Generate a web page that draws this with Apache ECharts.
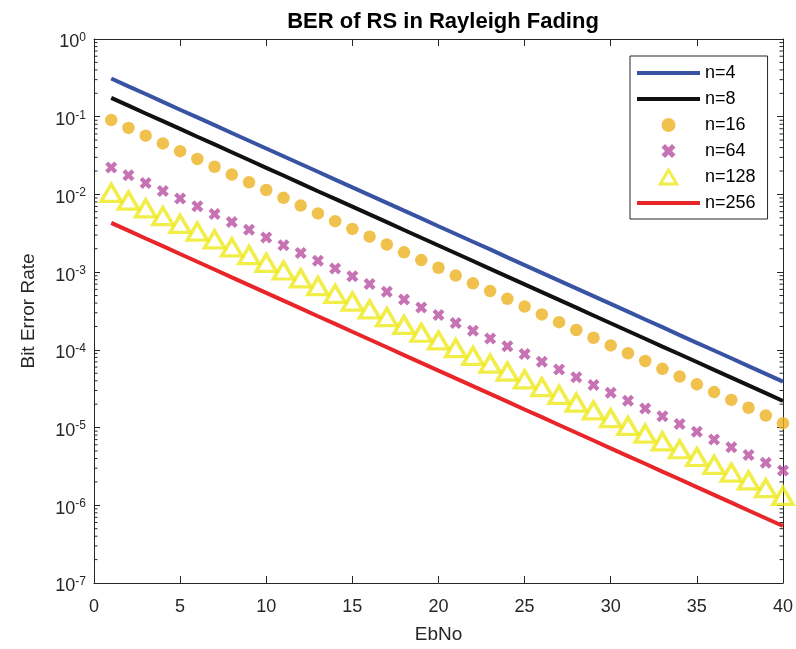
<!DOCTYPE html>
<html>
<head>
<meta charset="utf-8">
<script src="https://cdn.jsdelivr.net/npm/echarts@6/dist/echarts.min.js"></script>
<style>
  html, body { margin: 0; padding: 0; background: #fff; }
  #chart { width: 796px; height: 649px; }
</style>
</head>
<body>
<div id="chart"></div>
<script>
var ebno = [1, 2, 3, 4, 5, 6, 7, 8, 9, 10, 11, 12, 13, 14, 15, 16, 17, 18, 19, 20,
  21, 22, 23, 24, 25, 26, 27, 28, 29, 30, 31, 32, 33, 34, 35, 36, 37, 38, 39, 40];

var ber4 = [3.10e-1, 2.46e-1, 1.96e-1, 1.55e-1, 1.23e-1, 9.80e-2, 7.79e-2, 6.18e-2, 4.91e-2, 3.90e-2,
  3.10e-2, 2.46e-2, 1.96e-2, 1.55e-2, 1.23e-2, 9.80e-3, 7.79e-3, 6.18e-3, 4.91e-3, 3.90e-3,
  3.10e-3, 2.46e-3, 1.96e-3, 1.55e-3, 1.23e-3, 9.80e-4, 7.79e-4, 6.18e-4, 4.91e-4, 3.90e-4,
  3.10e-4, 2.46e-4, 1.96e-4, 1.55e-4, 1.23e-4, 9.80e-5, 7.79e-5, 6.18e-5, 4.91e-5, 3.90e-5];
var ber8 = [1.75e-1, 1.39e-1, 1.10e-1, 8.77e-2, 6.97e-2, 5.53e-2, 4.40e-2, 3.49e-2, 2.77e-2, 2.20e-2,
  1.75e-2, 1.39e-2, 1.10e-2, 8.77e-3, 6.97e-3, 5.53e-3, 4.40e-3, 3.49e-3, 2.77e-3, 2.20e-3,
  1.75e-3, 1.39e-3, 1.10e-3, 8.77e-4, 6.97e-4, 5.53e-4, 4.40e-4, 3.49e-4, 2.77e-4, 2.20e-4,
  1.75e-4, 1.39e-4, 1.10e-4, 8.77e-5, 6.97e-5, 5.53e-5, 4.40e-5, 3.49e-5, 2.77e-5, 2.20e-5];
var ber16 = [9.04e-2, 7.18e-2, 5.70e-2, 4.53e-2, 3.60e-2, 2.86e-2, 2.27e-2, 1.80e-2, 1.43e-2, 1.14e-2,
  9.04e-3, 7.18e-3, 5.70e-3, 4.53e-3, 3.60e-3, 2.86e-3, 2.27e-3, 1.80e-3, 1.43e-3, 1.14e-3,
  9.04e-4, 7.18e-4, 5.70e-4, 4.53e-4, 3.60e-4, 2.86e-4, 2.27e-4, 1.80e-4, 1.43e-4, 1.14e-4,
  9.04e-5, 7.18e-5, 5.70e-5, 4.53e-5, 3.60e-5, 2.86e-5, 2.27e-5, 1.80e-5, 1.43e-5, 1.14e-5];
var ber64 = [2.22e-2, 1.76e-2, 1.40e-2, 1.11e-2, 8.84e-3, 7.02e-3, 5.58e-3, 4.43e-3, 3.52e-3, 2.80e-3,
  2.22e-3, 1.76e-3, 1.40e-3, 1.11e-3, 8.84e-4, 7.02e-4, 5.58e-4, 4.43e-4, 3.52e-4, 2.80e-4,
  2.22e-4, 1.76e-4, 1.40e-4, 1.11e-4, 8.84e-5, 7.02e-5, 5.58e-5, 4.43e-5, 3.52e-5, 2.80e-5,
  2.22e-5, 1.76e-5, 1.40e-5, 1.11e-5, 8.84e-6, 7.02e-6, 5.58e-6, 4.43e-6, 3.52e-6, 2.80e-6];
var ber128 = [1.05e-2, 8.34e-3, 6.63e-3, 5.26e-3, 4.18e-3, 3.32e-3, 2.64e-3, 2.09e-3, 1.66e-3, 1.32e-3,
  1.05e-3, 8.34e-4, 6.63e-4, 5.26e-4, 4.18e-4, 3.32e-4, 2.64e-4, 2.09e-4, 1.66e-4, 1.32e-4,
  1.05e-4, 8.34e-5, 6.63e-5, 5.26e-5, 4.18e-5, 3.32e-5, 2.64e-5, 2.09e-5, 1.66e-5, 1.32e-5,
  1.05e-5, 8.34e-6, 6.63e-6, 5.26e-6, 4.18e-6, 3.32e-6, 2.64e-6, 2.09e-6, 1.66e-6, 1.32e-6];
var ber256 = [4.30e-3, 3.42e-3, 2.71e-3, 2.16e-3, 1.71e-3, 1.36e-3, 1.08e-3, 8.57e-4, 6.81e-4, 5.41e-4,
  4.30e-4, 3.42e-4, 2.71e-4, 2.16e-4, 1.71e-4, 1.36e-4, 1.08e-4, 8.57e-5, 6.81e-5, 5.41e-5,
  4.30e-5, 3.42e-5, 2.71e-5, 2.16e-5, 1.71e-5, 1.36e-5, 1.08e-5, 8.57e-6, 6.81e-6, 5.41e-6,
  4.30e-6, 3.42e-6, 2.71e-6, 2.16e-6, 1.71e-6, 1.36e-6, 1.08e-6, 8.57e-7, 6.81e-7, 5.41e-7];

var seriesNames = ['n=4', 'n=8', 'n=16', 'n=64', 'n=128', 'n=256'];

// minor ticks of the log axis (2..9 in each decade)
var minorTicks = [];
for (var d = -7; d < 0; d++) {
  for (var k = 2; k <= 9; k++) minorTicks.push([0, k * Math.pow(10, d)]);
}

var FONT = 'Liberation Sans';
var AX = '#262626';
var YEL = '#EEE81C';
var crossPath = 'path://M2.5,0 L5,2.5 L7.5,0 L10,2.5 L7.5,5 L10,7.5 L7.5,10 L5,7.5 L2.5,10 L0,7.5 L2.5,5 L0,2.5 Z';
var barPath = 'path://M0,0 L63,0 L63,4 L0,4 Z';
var triPath = 'path://M10,0 L20,17 L0,17 Z';

function pairs(vals) {
  var out = [];
  for (var i = 0; i < ebno.length; i++) out.push([ebno[i], vals[i]]);
  return out;
}

function lineSeries(name, vals, color) {
  return {
    name: name, type: 'line', data: pairs(vals), symbol: 'none',
    lineStyle: { color: color, width: 4 }, itemStyle: { color: color },
    animation: false
  };
}

function markerSeries(name, vals, symbol, size, style) {
  return {
    name: name, type: 'scatter', data: pairs(vals), symbol: symbol,
    symbolSize: size, itemStyle: style, animation: false
  };
}

var chart = echarts.init(document.getElementById('chart'));

var option = {
  backgroundColor: '#fff',
  textStyle: { fontFamily: FONT },
  title: {
    text: 'BER of RS in Rayleigh Fading',
    left: 438, top: 6, textAlign: 'center',
    textStyle: { fontFamily: FONT, fontSize: 22, fontWeight: 'bold', color: '#000' }
  },
  grid: { left: 94, right: 13, top: 39, bottom: 66 },
  legend: {
    orient: 'vertical', left: 630, top: 56,
    padding: [7, 12, 6, 7],
    borderColor: AX, borderWidth: 1, backgroundColor: '#fff',
    itemWidth: 63, itemHeight: 14, itemGap: 6,
    symbolKeepAspect: true,
    textStyle: { fontFamily: FONT, fontSize: 18, lineHeight: 20, color: '#000' },
    data: [
      { name: 'n=4', icon: barPath },
      { name: 'n=8', icon: barPath },
      { name: 'n=16', icon: 'circle' },
      { name: 'n=64', icon: crossPath },
      { name: 'n=128', icon: triPath,
        itemStyle: { color: 'rgba(255,255,255,0)', borderColor: YEL, borderWidth: 3 } },
      { name: 'n=256', icon: barPath }
    ]
  },
  xAxis: [{
    type: 'value', min: 0, max: 40, interval: 5,
    name: 'EbNo', nameLocation: 'middle', nameGap: 42,
    nameTextStyle: { fontFamily: FONT, fontSize: 19, color: AX },
    axisLine: { show: true, onZero: false, lineStyle: { color: AX, width: 1 } },
    axisTick: { inside: true, length: 7, lineStyle: { color: AX } },
    axisLabel: { fontFamily: FONT, fontSize: 18, color: AX, margin: 15 },
    splitLine: { show: false }
  }, {
    type: 'value', min: 0, max: 40, interval: 5, position: 'top',
    axisLine: { show: true, onZero: false, lineStyle: { color: AX, width: 1 } },
    axisTick: { inside: true, length: 7, lineStyle: { color: AX } },
    axisLabel: { show: false }, splitLine: { show: false }
  }],
  yAxis: [{
    type: 'log', logBase: 10, min: 1e-7, max: 1, interval: 1,
    name: 'Bit Error Rate', nameLocation: 'middle', nameGap: 56,
    nameTextStyle: { fontFamily: FONT, fontSize: 19, color: AX },
    axisLine: { show: true, onZero: false, lineStyle: { color: AX, width: 1 } },
    axisTick: { inside: true, length: 6, lineStyle: { color: AX } },
    axisLabel: {
      margin: 8, color: AX, padding: [5, 0, 0, 0],
      formatter: function (v) {
        return '{b|10}{s|' + Math.round(Math.log10(v)) + '}';
      },
      rich: {
        b: { fontFamily: FONT, fontSize: 18, color: AX, lineHeight: 20, verticalAlign: 'bottom' },
        s: { fontFamily: FONT, fontSize: 12, color: AX, lineHeight: 20, verticalAlign: 'top' }
      }
    },
    splitLine: { show: false }
  }, {
    type: 'log', logBase: 10, min: 1e-7, max: 1, interval: 1, position: 'right',
    axisLine: { show: true, onZero: false, lineStyle: { color: AX, width: 1 } },
    axisTick: { inside: true, length: 6, lineStyle: { color: AX } },
    axisLabel: { show: false }, splitLine: { show: false }
  }],
  series: [
    lineSeries('n=4', ber4, '#3953A4'),
    lineSeries('n=8', ber8, '#111111'),
    markerSeries('n=16', ber16, 'circle', 12.5, { color: '#EDB120' }),
    markerSeries('n=64', ber64, crossPath, 12, { color: '#B84FA0' }),
    markerSeries('n=128', ber128, 'triangle', [20, 17],
      { color: 'rgba(255,255,255,0)', borderColor: YEL, borderWidth: 3.5 }),
    lineSeries('n=256', ber256, '#E8262A'),
    {
      name: 'minor', type: 'custom', data: minorTicks, silent: true, animation: false,
      renderItem: function (params, api) {
        var l = api.coord([0, api.value(1)]);
        var r = api.coord([40, api.value(1)]);
        var st = { stroke: AX, lineWidth: 1 };
        return {
          type: 'group', children: [
            { type: 'line', shape: { x1: l[0], y1: l[1], x2: l[0] + 3.5, y2: l[1] }, style: st },
            { type: 'line', shape: { x1: r[0], y1: r[1], x2: r[0] - 3.5, y2: r[1] }, style: st }
          ]
        };
      }
    }
  ]
};

chart.setOption(option);
</script>
</body>
</html>
